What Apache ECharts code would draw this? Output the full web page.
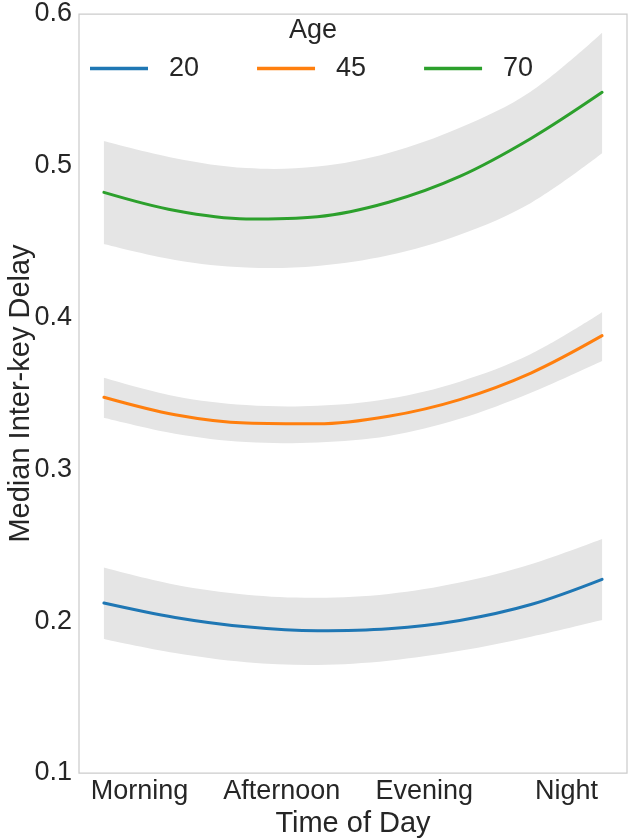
<!DOCTYPE html>
<html>
<head>
<meta charset="utf-8">
<script src="https://cdn.jsdelivr.net/npm/echarts@6/dist/echarts.min.js"></script>
<style>
html,body{margin:0;padding:0;background:#fff;}
#chart{width:633px;height:840px;}
</style>
</head>
<body>
<div id="chart"></div>
<script>
// Time axis positions (continuous, 0..14) at which curves were read
var timePoints = [0, 2, 4, 6, 8, 10, 12, 14];
// Tick labels and their positions on the time axis
var tickPositions = [1, 5, 9, 13];
var tickLabels = ['Morning', 'Afternoon', 'Evening', 'Night'];
var yTicks = [0.1, 0.2, 0.3, 0.4, 0.5, 0.6];

var ages = ['20', '45', '70'];
// Fitted median inter-key delay per age
var age20 = [0.2120, 0.2025, 0.1963, 0.1937, 0.1950, 0.2005, 0.2110, 0.2276];
var age45 = [0.3475, 0.3360, 0.3305, 0.3300, 0.3350, 0.3460, 0.3635, 0.3881];
var age70 = [0.4825, 0.4705, 0.4650, 0.4665, 0.4760, 0.4930, 0.5180, 0.5484];
// Confidence band lower / upper bounds
var age20Lo = [0.1883, 0.1790, 0.1730, 0.1712, 0.1740, 0.1805, 0.1898, 0.2008];
var age20Hi = [0.2353, 0.2240, 0.2175, 0.2155, 0.2180, 0.2255, 0.2375, 0.2541];
var age45Lo = [0.3340, 0.3235, 0.3180, 0.3178, 0.3220, 0.3333, 0.3505, 0.3714];
var age45Hi = [0.3604, 0.3482, 0.3424, 0.3419, 0.3465, 0.3578, 0.3760, 0.4035];
var age70Lo = [0.4485, 0.4380, 0.4330, 0.4340, 0.4410, 0.4545, 0.4755, 0.5082];
var age70Hi = [0.5163, 0.5050, 0.4985, 0.4995, 0.5085, 0.5250, 0.5490, 0.5877];

var colors = ['#1f77b4', '#ff7f0e', '#2ca02c'];
var FONT = 'Liberation Sans, Arial, sans-serif';
var TXT = '#262626';
var BAND = '#e5e5e5';
var SMOOTH = 0.35;

function pairs(xs, ys) { return xs.map(function (x, i) { return [x, ys[i]]; }); }

var lines = [age20, age45, age70];
var los = [age20Lo, age45Lo, age70Lo];
var his = [age20Hi, age45Hi, age70Hi];

// Smooth cubic path through pixel points (same style of smoothing as ECharts lines)
function smoothSegs(pts, startWithMove) {
  var d = startWithMove ? 'M' + pts[0][0] + ',' + pts[0][1] : 'L' + pts[0][0] + ',' + pts[0][1];
  var n = pts.length;
  function cps(i) {
    var p = pts[i];
    if (i === 0 || i === n - 1) return [p, p];
    var a = pts[i - 1], b = pts[i + 1];
    var vx = b[0] - a[0], vy = b[1] - a[1];
    var l0 = Math.hypot(p[0] - a[0], p[1] - a[1]), l1 = Math.hypot(b[0] - p[0], b[1] - p[1]);
    var r = l1 / (l0 + l1);
    return [[p[0] - vx * SMOOTH * (1 - r), p[1] - vy * SMOOTH * (1 - r)],
            [p[0] + vx * SMOOTH * r, p[1] + vy * SMOOTH * r]];
  }
  for (var i = 0; i < n - 1; i++) {
    var c0 = cps(i)[1], c1 = cps(i + 1)[0], q = pts[i + 1];
    d += 'C' + c0[0] + ',' + c0[1] + ',' + c1[0] + ',' + c1[1] + ',' + q[0] + ',' + q[1];
  }
  return d;
}

var series = [];
series.push({
  name: 'bands', type: 'custom', silent: true, z: 1,
  data: [[0], [1], [2]],
  encode: { x: -1, y: -1 },
  renderItem: function (params, api) {
    var k = params.dataIndex;
    var up = timePoints.map(function (t, i) { return api.coord([t, his[k][i]]); });
    var dn = timePoints.map(function (t, i) { return api.coord([t, los[k][i]]); }).reverse();
    var d = smoothSegs(up, true) + smoothSegs(dn, false) + 'Z';
    return { type: 'path', shape: { pathData: d }, style: { fill: BAND, stroke: null } };
  }
});
ages.forEach(function (a, k) {
  series.push({
    name: a, type: 'line', smooth: SMOOTH, data: pairs(timePoints, lines[k]),
    symbol: 'none', showSymbol: false,
    lineStyle: { color: colors[k], width: 3, cap: 'round' }, itemStyle: { color: colors[k] }, z: 3
  });
});

var chart = echarts.init(document.getElementById('chart'), null, { renderer: 'canvas' });
chart.setOption({
  animation: false,
  backgroundColor: '#ffffff',
  textStyle: { fontFamily: FONT, color: TXT },
  grid: { left: 79, right: 6, top: 14, bottom: 67, show: true, borderColor: '#cccccc', borderWidth: 1.25, outerBoundsMode: 'none', containLabel: false },
  graphic: [{
    id: 'ageTitle', type: 'text', x: 313, y: 31, z: 10,
    style: { text: 'Age', font: '27px ' + FONT, fill: TXT, align: 'center', verticalAlign: 'middle' }
  }],
  legend: {
    data: ages, left: 90, top: 55, padding: 0, icon: 'rect', itemWidth: 58, itemHeight: 3.5, itemGap: 58,
    textStyle: { fontSize: 27, color: TXT, fontFamily: FONT, padding: [0, 0, 0, 16] }
  },
  xAxis: {
    type: 'value', min: -0.7, max: 14.7,
    name: 'Time of Day', nameLocation: 'middle', nameGap: 36, nameMoveOverlap: false,
    nameTextStyle: { fontSize: 29, color: TXT, fontFamily: FONT },
    axisLine: { show: false }, axisTick: { show: false }, splitLine: { show: false },
    axisLabel: {
      customValues: tickPositions, fontSize: 27, color: TXT, fontFamily: FONT, margin: 5,
      formatter: function (v) { var i = tickPositions.indexOf(v); return i >= 0 ? tickLabels[i] : ''; }
    }
  },
  yAxis: {
    type: 'value', min: yTicks[0], max: yTicks[yTicks.length - 1], interval: 0.1,
    name: 'Median Inter-key Delay', nameLocation: 'middle', nameGap: 44, nameMoveOverlap: false,
    nameTextStyle: { fontSize: 29, color: TXT, fontFamily: FONT },
    axisLine: { show: false }, axisTick: { show: false }, splitLine: { show: false },
    axisLabel: { fontSize: 27, color: TXT, fontFamily: FONT, margin: 7, formatter: function (v) { return v.toFixed(1); } }
  },
  series: series
});
</script>
</body>
</html>
